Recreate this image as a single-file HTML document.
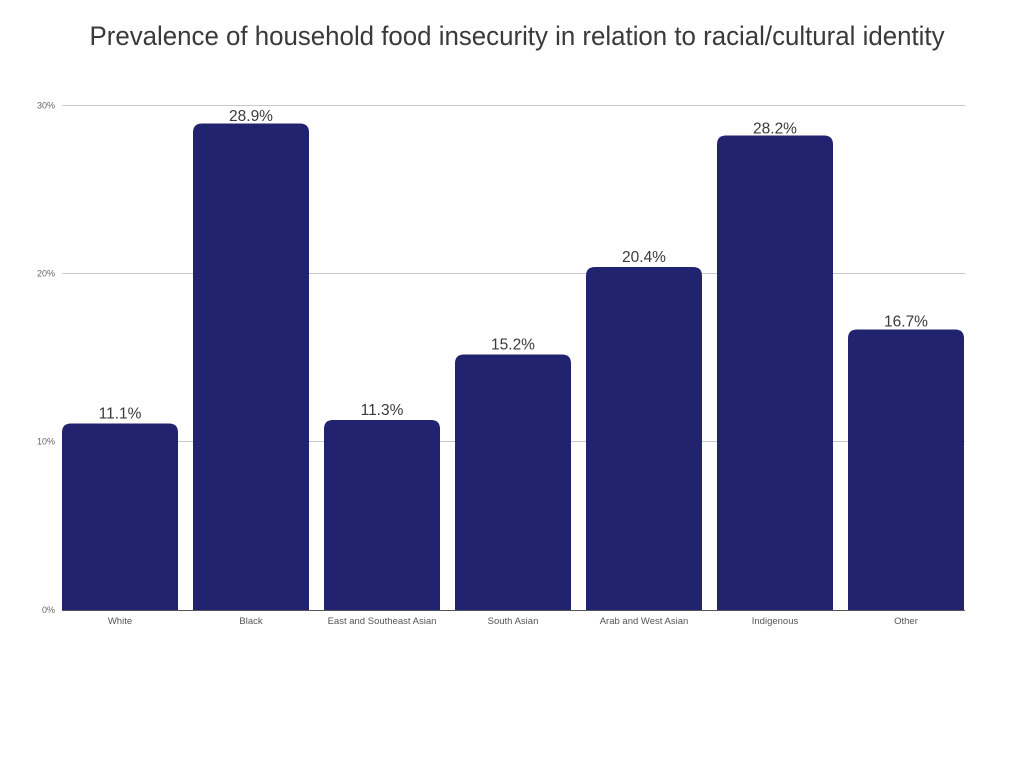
<!DOCTYPE html>
<html>
<head>
<meta charset="utf-8">
<style>
html,body{margin:0;padding:0;background:#fff;}
svg{display:block;}
text{font-family:"Liberation Sans",sans-serif;}
</style>
</head>
<body>
<svg width="1024" height="768" viewBox="0 0 1024 768" xmlns="http://www.w3.org/2000/svg">
<rect width="1024" height="768" fill="#fff"/>
<text x="517" y="45" text-anchor="middle" font-size="27" fill="#3a3a3a" textLength="855" lengthAdjust="spacingAndGlyphs">Prevalence of household food insecurity in relation to racial/cultural identity</text>

<!-- gridlines -->
<g stroke="#c8c8c8" stroke-width="1">
<line x1="62" y1="105.5" x2="965" y2="105.5"/>
<line x1="62" y1="273.5" x2="965" y2="273.5"/>
<line x1="62" y1="441.5" x2="965" y2="441.5"/>
</g>
<g font-size="9" fill="#666" text-anchor="end">
<text x="55" y="108.5">30%</text>
<text x="55" y="276.5">20%</text>
<text x="55" y="444.5">10%</text>
<text x="55" y="613">0%</text>
</g>

<!-- bars -->
<g fill="#21236e">
<path d="M62,610 V432.5 Q62,423.5 71,423.5 H169 Q178,423.5 178,432.5 V610 Z"/>
<path d="M193,610 V132.5 Q193,123.5 202,123.5 H300 Q309,123.5 309,132.5 V610 Z"/>
<path d="M324,610 V429 Q324,420 333,420 H431 Q440,420 440,429 V610 Z"/>
<path d="M455,610 V363.5 Q455,354.5 464,354.5 H562 Q571,354.5 571,363.5 V610 Z"/>
<path d="M586,610 V276 Q586,267 595,267 H693 Q702,267 702,276 V610 Z"/>
<path d="M717,610 V144.5 Q717,135.5 726,135.5 H824 Q833,135.5 833,144.5 V610 Z"/>
<path d="M848,610 V338.5 Q848,329.5 857,329.5 H955 Q964,329.5 964,338.5 V610 Z"/>
</g>
<line x1="62" y1="610.5" x2="965" y2="610.5" stroke="#555" stroke-width="1"/>

<!-- value labels -->
<g font-size="15.5" fill="#3a3a3a" text-anchor="middle">
<text x="120" y="418.5">11.1%</text>
<text x="251" y="121">28.9%</text>
<text x="382" y="415">11.3%</text>
<text x="513" y="349.5">15.2%</text>
<text x="644" y="262">20.4%</text>
<text x="775" y="133.5">28.2%</text>
<text x="906" y="326.5">16.7%</text>
</g>

<!-- category labels -->
<g font-size="9.5" fill="#555" text-anchor="middle">
<text x="120" y="624">White</text>
<text x="251" y="624">Black</text>
<text x="382" y="624">East and Southeast Asian</text>
<text x="513" y="624">South Asian</text>
<text x="644" y="624">Arab and West Asian</text>
<text x="775" y="624">Indigenous</text>
<text x="906" y="624">Other</text>
</g>
</svg>
</body>
</html>
